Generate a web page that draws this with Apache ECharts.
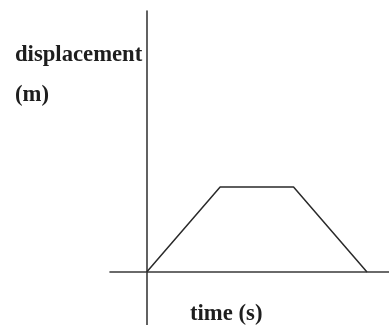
<!DOCTYPE html>
<html>
<head>
<meta charset="utf-8">
<script src="https://cdn.jsdelivr.net/npm/echarts@6/dist/echarts.min.js"></script>
<style>html,body{margin:0;padding:0;background:#fff}#c{width:389px;height:325px}</style>
</head>
<body>
<div id="c"></div>
<script>
var times = [0, 5, 10, 15];
var displacement = [0, 4, 4, 0];
var yAxisTitle = ['displacement', '(m)'];
var xAxisTitle = 'time (s)';

var chart = echarts.init(document.getElementById('c'), null, {renderer: 'canvas'});
var pts = times.map(function (t, i) { return [t, displacement[i]]; });
var font = 'bold 22.7px "Liberation Serif", "Times New Roman", serif';
chart.setOption({
  animation: false,
  backgroundColor: '#fff',
  grid: {left: 110, right: 0, top: 11, bottom: 0, containLabel: false},
  xAxis: {
    type: 'value', min: -2.5, max: 16.5,
    axisLine: {show: true, onZero: true, lineStyle: {color: '#3a3a3a', width: 1.6}},
    axisTick: {show: false}, axisLabel: {show: false}, splitLine: {show: false}
  },
  yAxis: {
    type: 'value', min: -2.5, max: 12.3,
    axisLine: {show: true, onZero: true, lineStyle: {color: '#3a3a3a', width: 1.6}},
    axisTick: {show: false}, axisLabel: {show: false}, splitLine: {show: false}
  },
  series: [{
    type: 'line', data: pts, symbol: 'none',
    lineStyle: {color: '#2a2a2a', width: 1.5}
  }],
  graphic: [
    {type: 'text', left: 15, top: 44, style: {text: yAxisTitle[0], font: font, fill: '#1e1e1e'}},
    {type: 'text', left: 15, top: 84, style: {text: yAxisTitle[1], font: font, fill: '#1e1e1e'}},
    {type: 'text', left: 190, top: 303, style: {text: xAxisTitle, font: font, fill: '#1e1e1e'}}
  ]
});
</script>
</body>
</html>
